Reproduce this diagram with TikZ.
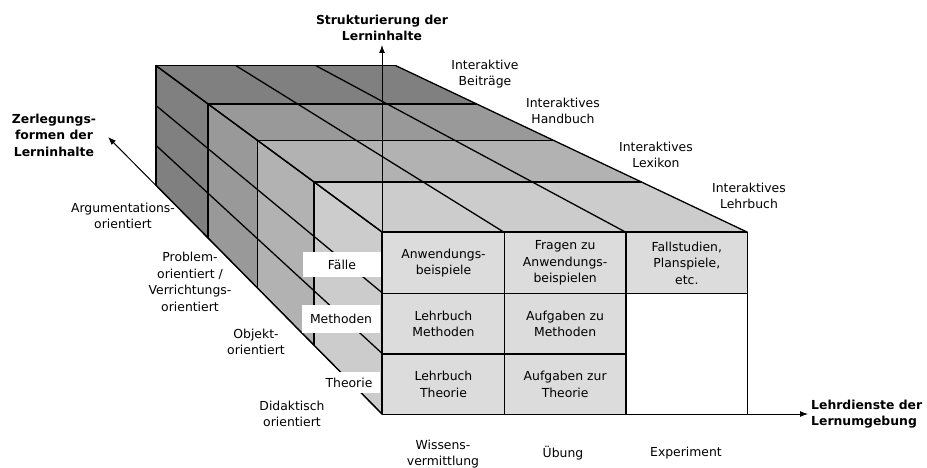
\documentclass[tikz,border=0pt]{standalone}
\usepackage{fontspec}
\setmainfont{DejaVu Sans}
\usetikzlibrary{calc,arrows.meta}

% grey shades of the four depth layers (front to back) and of the front cells
\definecolor{depthA}{HTML}{CCCCCC}
\definecolor{depthB}{HTML}{B2B2B2}
\definecolor{depthC}{HTML}{999999}
\definecolor{depthD}{HTML}{808080}
\definecolor{cellgray}{HTML}{DCDCDC}

\begin{document}
\begin{tikzpicture}[x=1pt,y=-1pt,
  boxline/.style={line width=1.3pt, line join=round, line cap=round},
  axisline/.style={line width=1pt, -{Latex[length=8pt,width=6pt]}},
  txt/.style={font=\fontsize{12.4}{16.5}\selectfont, align=center, inner sep=0pt},
  axlabel/.style={txt, font=\fontsize{12.4}{16.5}\selectfont\bfseries},
  cell/.style={txt, draw, boxline, fill=cellgray, minimum width=121.67pt,
               minimum height=60.67pt, anchor=north west},
  rowtag/.style={txt, fill=white},
]
\useasboundingbox (0,0) rectangle (927,468);

% vanishing point of the perspective
\coordinate (V) at (-277,-253);
\coordinate (O) at (382,414);

% edges of the top face (T<column><depth>) and of the left face (L<row><depth>)
\foreach \i/\xx in {0/382,1/503.67,2/625.33,3/747}{
  \foreach \k/\s in {0/1,1/0.897,2/0.811,3/0.736,4/0.657}{
    \coordinate (T\i\k) at ($(V)!\s!(\xx,232)$);
  }
}
\foreach \j/\yy in {0/232,1/292.67,2/353.33,3/414}{
  \foreach \k/\s in {0/1,1/0.897,2/0.811,3/0.736,4/0.657}{
    \coordinate (L\j\k) at ($(V)!\s!(382,\yy)$);
  }
}

% depth layers, shaded on the top and on the left face
\foreach \k/\kk/\c in {0/1/depthA,1/2/depthB,2/3/depthC,3/4/depthD}{
  \fill[\c] (T0\k) -- (T3\k) -- (T3\kk) -- (T0\kk) -- cycle;
  \fill[\c] (L0\k) -- (L3\k) -- (L3\kk) -- (L0\kk) -- cycle;
}
\foreach \k in {0,...,4}{
  \draw[boxline] (T0\k) -- (T3\k);
  \draw[boxline] (L0\k) -- (L3\k);
}
\foreach \i in {0,...,3}{
  \draw[boxline] (T\i0) -- (T\i4);
  \draw[boxline] (L\i0) -- (L\i4);
}

% front face
\node[cell] (f11) at (382,232)       {Anwendungs-\\beispiele};
\node[cell] (f12) at (503.67,232)    {Fragen zu\\Anwendungs-\\beispielen};
\node[cell] (f13) at (625.33,232)    {Fallstudien,\\Planspiele,\\etc.};
\node[cell] (f21) at (382,292.67)    {Lehrbuch\\Methoden};
\node[cell] (f22) at (503.67,292.67) {Aufgaben zu\\Methoden};
\node[cell] (f31) at (382,353.33)    {Lehrbuch\\Theorie};
\node[cell] (f32) at (503.67,353.33) {Aufgaben zur\\Theorie};
\node[cell, fill=white, minimum height=121.33pt] (f23) at (625.33,292.67) {};

% axes
\coordinate (XA) at (808,414);
\coordinate (YA) at (382,45);
\coordinate (ZA) at (108,137);
\draw[axisline] (O) -- (XA);
\draw[axisline] (O) -- (YA);
\draw[axisline] (O) -- (ZA);

% row tags on the left face
\node[rowtag, minimum width=78pt, minimum height=25pt] (tagF) at (342,264.5) {Fälle};
\node[rowtag, minimum width=78pt, minimum height=28pt] (tagM) at (341,319)   {Methoden};
\node[rowtag, minimum width=62pt, minimum height=21pt] (tagT) at (349,382.5) {Theorie};

% axis titles
\node[axlabel] (ylab) at (382,28) {Strukturierung der\\Lerninhalte};
\node[axlabel] (zlab) at (54,135) {Zerlegungs-\\formen der\\Lerninhalte};
\node[axlabel, align=left, anchor=west] (xlab) at (811,414) {Lehrdienste der\\Lernumgebung};

% depth layers, right side
\node[txt] (dR4) at (485,74)  {Interaktive\\Beiträge};
\node[txt] (dR3) at (563,111) {Interaktives\\Handbuch};
\node[txt] (dR2) at (656,155) {Interaktives\\Lexikon};
\node[txt] (dR1) at (749,196) {Interaktives\\Lehrbuch};

% depth layers, left side
\node[txt] (dL4) at (123,216) {Argumentations-\\orientiert};
\node[txt] (dL3) at (190,282) {Problem-\\orientiert /\\Verrichtungs-\\orientiert};
\node[txt] (dL2) at (256,342) {Objekt-\\orientiert};
\node[txt] (dL1) at (292,414) {Didaktisch\\orientiert};

% columns of the front face
\node[txt] (c1) at (443,454) {Wissens-\\vermittlung};
\node[txt] (c2) at (563,453) {Übung};
\node[txt] (c3) at (686,453) {Experiment};
\end{tikzpicture}
\end{document}
